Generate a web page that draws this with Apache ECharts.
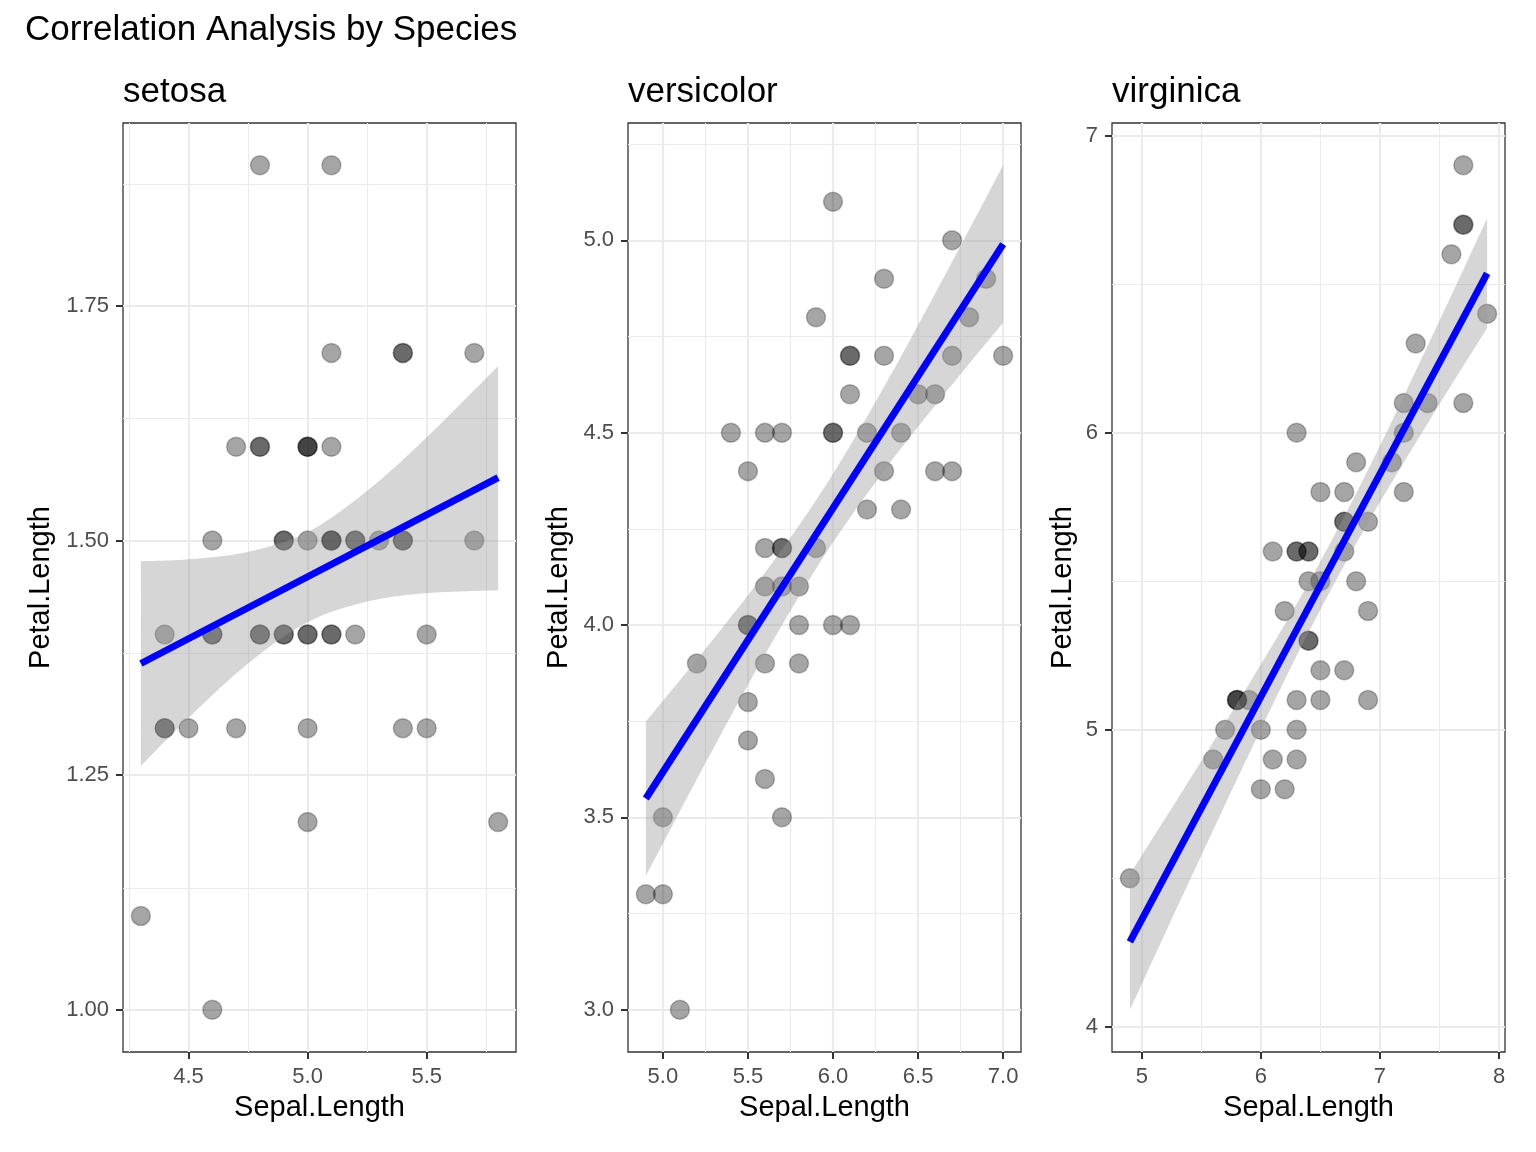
<!DOCTYPE html>
<html>
<head>
<meta charset="utf-8">
<title>Correlation Analysis by Species</title>
<script src="https://cdn.jsdelivr.net/npm/echarts@6.0.0/dist/echarts.min.js"></script>
<style>
html, body { margin: 0; padding: 0; background: #fff; }
#chart { width: 1536px; height: 1152px; }
</style>
</head>
<body>
<div id="chart"></div>
<script>
// Sepal.Length vs Petal.Length, one panel per species, with lm line + 95% band

const species = ['setosa', 'versicolor', 'virginica'];

const setosaSepal = [5.1, 4.9, 4.7, 4.6, 5.0, 5.4, 4.6, 5.0, 4.4, 4.9, 5.4, 4.8, 4.8, 4.3, 5.8, 5.7, 5.4, 5.1, 5.7, 5.1, 5.4, 5.1, 4.6, 5.1, 4.8, 5.0, 5.0, 5.2, 5.2, 4.7, 4.8, 5.4, 5.2, 5.5, 4.9, 5.0, 5.5, 4.9, 4.4, 5.1, 5.0, 4.5, 4.4, 5.0, 5.1, 4.8, 5.1, 4.6, 5.3, 5.0];
const setosaPetal = [1.4, 1.4, 1.3, 1.5, 1.4, 1.7, 1.4, 1.5, 1.4, 1.5, 1.5, 1.6, 1.4, 1.1, 1.2, 1.5, 1.3, 1.4, 1.7, 1.5, 1.7, 1.5, 1.0, 1.7, 1.9, 1.6, 1.6, 1.5, 1.4, 1.6, 1.6, 1.5, 1.5, 1.4, 1.5, 1.2, 1.3, 1.4, 1.3, 1.5, 1.3, 1.3, 1.3, 1.6, 1.9, 1.4, 1.6, 1.4, 1.5, 1.4];

const versicolorSepal = [7.0, 6.4, 6.9, 5.5, 6.5, 5.7, 6.3, 4.9, 6.6, 5.2, 5.0, 5.9, 6.0, 6.1, 5.6, 6.7, 5.6, 5.8, 6.2, 5.6, 5.9, 6.1, 6.3, 6.1, 6.4, 6.6, 6.8, 6.7, 6.0, 5.7, 5.5, 5.5, 5.8, 6.0, 5.4, 6.0, 6.7, 6.3, 5.6, 5.5, 5.5, 6.1, 5.8, 5.0, 5.6, 5.7, 5.7, 6.2, 5.1, 5.7];
const versicolorPetal = [4.7, 4.5, 4.9, 4.0, 4.6, 4.5, 4.7, 3.3, 4.6, 3.9, 3.5, 4.2, 4.0, 4.7, 3.6, 4.4, 4.5, 4.1, 4.5, 3.9, 4.8, 4.0, 4.9, 4.7, 4.3, 4.4, 4.8, 5.0, 4.5, 3.5, 3.8, 3.7, 3.9, 5.1, 4.5, 4.5, 4.7, 4.4, 4.1, 4.0, 4.4, 4.6, 4.0, 3.3, 4.2, 4.2, 4.2, 4.3, 3.0, 4.1];

const virginicaSepal = [6.3, 5.8, 7.1, 6.3, 6.5, 7.6, 4.9, 7.3, 6.7, 7.2, 6.5, 6.4, 6.8, 5.7, 5.8, 6.4, 6.5, 7.7, 7.7, 6.0, 6.9, 5.6, 7.7, 6.3, 6.7, 7.2, 6.2, 6.1, 6.4, 7.2, 7.4, 7.9, 6.4, 6.3, 6.1, 7.7, 6.3, 6.4, 6.0, 6.9, 6.7, 6.9, 5.8, 6.8, 6.7, 6.7, 6.3, 6.5, 6.2, 5.9];
const virginicaPetal = [6.0, 5.1, 5.9, 5.6, 5.8, 6.6, 4.5, 6.3, 5.8, 6.1, 5.1, 5.3, 5.5, 5.0, 5.1, 5.3, 5.5, 6.7, 6.9, 5.0, 5.7, 4.9, 6.7, 4.9, 5.7, 6.0, 4.8, 4.9, 5.6, 5.8, 6.1, 6.4, 5.6, 5.1, 5.6, 6.1, 5.6, 5.5, 4.8, 5.4, 5.6, 5.1, 5.1, 5.9, 5.7, 5.2, 5.0, 5.2, 5.4, 5.1];

// fitted line ends
const setosaFitX = [4.3, 5.8];
const setosaFitY = [1.369, 1.567];
const versicolorFitX = [4.9, 7.0];
const versicolorFitY = [3.549, 4.990];
const virginicaFitX = [4.9, 7.9];
const virginicaFitY = [4.286, 6.536];

// grey confidence band edges
const setosaBandX = [4.3, 4.5, 4.75, 5.0, 5.25, 5.5, 5.8];
const setosaBandLow = [1.260, 1.311, 1.369, 1.413, 1.435, 1.444, 1.447];
const setosaBandHigh = [1.478, 1.480, 1.488, 1.509, 1.553, 1.610, 1.686];
const versicolorBandX = [4.9, 5.25, 5.6, 5.95, 6.3, 6.65, 7.0];
const versicolorBandLow = [3.348, 3.641, 3.923, 4.181, 4.401, 4.598, 4.786];
const versicolorBandHigh = [3.749, 3.938, 4.136, 4.358, 4.619, 4.903, 5.195];
const virginicaBandX = [4.9, 5.4, 5.9, 6.4, 6.9, 7.4, 7.9];
const virginicaBandLow = [4.058, 4.491, 4.918, 5.328, 5.697, 6.031, 6.352];
const virginicaBandHigh = [4.514, 4.831, 5.154, 5.494, 5.875, 6.292, 6.721];

// tick labels and minor grid positions
const setosaXTicks = ['4.5', '5.0', '5.5'];
const setosaYTicks = ['1.00', '1.25', '1.50', '1.75'];
const setosaXMinor = [4.25, 4.75, 5.25, 5.75];
const setosaYMinor = [1.125, 1.375, 1.625, 1.875];
const versicolorXTicks = ['5.0', '5.5', '6.0', '6.5', '7.0'];
const versicolorYTicks = ['3.0', '3.5', '4.0', '4.5', '5.0'];
const versicolorXMinor = [5.25, 5.75, 6.25, 6.75];
const versicolorYMinor = [3.25, 3.75, 4.25, 4.75, 5.25];
const virginicaXTicks = ['5', '6', '7', '8'];
const virginicaYTicks = ['4', '5', '6', '7'];
const virginicaXMinor = [5.5, 6.5, 7.5];
const virginicaYMinor = [4.5, 5.5, 6.5];

const FONT = '"Liberation Sans", Arial, Helvetica, sans-serif';

const panels = [
    { name: 'setosa', sepal: setosaSepal, petal: setosaPetal, fitX: setosaFitX, fitY: setosaFitY,
      bandX: setosaBandX, low: setosaBandLow, high: setosaBandHigh,
      xTicks: setosaXTicks, yTicks: setosaYTicks, xMinor: setosaXMinor, yMinor: setosaYMinor,
      xRange: [4.225, 5.875], yRange: [0.955, 1.945], left: 123, yNameGap: 68 },
    { name: 'versicolor', sepal: versicolorSepal, petal: versicolorPetal, fitX: versicolorFitX, fitY: versicolorFitY,
      bandX: versicolorBandX, low: versicolorBandLow, high: versicolorBandHigh,
      xTicks: versicolorXTicks, yTicks: versicolorYTicks, xMinor: versicolorXMinor, yMinor: versicolorYMinor,
      xRange: [4.795, 7.105], yRange: [2.890, 5.305], left: 628, yNameGap: 55 },
    { name: 'virginica', sepal: virginicaSepal, petal: virginicaPetal, fitX: virginicaFitX, fitY: virginicaFitY,
      bandX: virginicaBandX, low: virginicaBandLow, high: virginicaBandHigh,
      xTicks: virginicaXTicks, yTicks: virginicaYTicks, xMinor: virginicaXMinor, yMinor: virginicaYMinor,
      xRange: [4.75, 8.05], yRange: [3.9156, 7.0421], left: 1112, yNameGap: 35 }
];

const chart = echarts.init(document.getElementById('chart'));

const titles = [{
    text: 'Correlation Analysis by Species',
    left: 25, top: 13, padding: 0,
    textStyle: { fontSize: 35, fontWeight: 'normal', color: '#000', fontFamily: FONT }
}];
const grids = [];
const xAxes = [];
const yAxes = [];
const series = [];

function labelFor(ticks) {
    const vals = ticks.map(Number);
    return function (v) {
        const i = vals.indexOf(v);
        return i >= 0 ? ticks[i] : '';
    };
}

function axisCommon(ticks, name, gap) {
    const vals = ticks.map(Number);
    return {
        type: 'value',
        name: name,
        nameLocation: 'middle',
        nameGap: gap,
        nameTextStyle: { fontSize: 29, color: '#000', fontFamily: FONT },
        splitLine: { show: false },
        axisLine: { show: false },
        axisTick: { show: true, customValues: vals, length: 7, lineStyle: { color: '#333', width: 2 } },
        axisLabel: { customValues: vals, formatter: labelFor(ticks), margin: 14,
                     color: '#4D4D4D', fontSize: 22, fontFamily: FONT }
    };
}

// Catmull-Rom through the band edge points (pixel space) so the edge draws as a curve
function curveThrough(pts, steps) {
    const out = [];
    const n = pts.length;
    for (let k = 0; k < n - 1; k++) {
        const p0 = pts[Math.max(k - 1, 0)], p1 = pts[k], p2 = pts[k + 1], p3 = pts[Math.min(k + 2, n - 1)];
        for (let s = 0; s < steps; s++) {
            const t = s / steps, t2 = t * t, t3 = t2 * t;
            const pt = [0, 1].map(d => 0.5 * (2 * p1[d] + (-p0[d] + p2[d]) * t +
                (2 * p0[d] - 5 * p1[d] + 4 * p2[d] - p3[d]) * t2 +
                (-p0[d] + 3 * p1[d] - 3 * p2[d] + p3[d]) * t3));
            out.push(pt);
        }
    }
    out.push(pts[n - 1]);
    return out;
}

panels.forEach(function (p, i) {
    titles.push({
        text: p.name, left: p.left, top: 75, padding: 0,
        textStyle: { fontSize: 35, fontWeight: 'normal', color: '#000', fontFamily: FONT }
    });
    grids.push({ left: p.left, top: 123, width: 393, height: 929, show: true,
                 borderColor: '#333', borderWidth: 1.3, backgroundColor: '#fff' });

    xAxes.push(Object.assign(axisCommon(p.xTicks, 'Sepal.Length', 41),
        { gridIndex: i, min: p.xRange[0], max: p.xRange[1] }));
    yAxes.push(Object.assign(axisCommon(p.yTicks, 'Petal.Length', p.yNameGap),
        { gridIndex: i, min: p.yRange[0], max: p.yRange[1] }));

    const gridLines = [];
    p.xMinor.forEach(v => gridLines.push({ xAxis: v, lineStyle: { width: 1.1 } }));
    p.yMinor.forEach(v => gridLines.push({ yAxis: v, lineStyle: { width: 1.1 } }));
    p.xTicks.forEach(v => gridLines.push({ xAxis: Number(v), lineStyle: { width: 2.2 } }));
    p.yTicks.forEach(v => gridLines.push({ yAxis: Number(v), lineStyle: { width: 2.2 } }));

    series.push({
        type: 'line', xAxisIndex: i, yAxisIndex: i, data: [], silent: true, z: 1,
        markLine: {
            silent: true, z: 1, animation: false,
            symbol: ['none', 'none'],
            label: { show: false },
            lineStyle: { color: '#EBEBEB', type: 'solid' },
            emphasis: { disabled: true },
            data: gridLines
        }
    });

    series.push({
        name: p.name, type: 'scatter', xAxisIndex: i, yAxisIndex: i, z: 3,
        symbolSize: 19,
        itemStyle: { color: 'rgba(0,0,0,0.44)', borderColor: 'rgba(0,0,0,0.3)', borderWidth: 1.5 },
        data: p.sepal.map((x, k) => [x, p.petal[k]])
    });

    series.push({
        type: 'custom', xAxisIndex: i, yAxisIndex: i, z: 4, silent: true,
        data: p.bandX.map((x, k) => [x, p.low[k], p.high[k]]),
        encode: { x: 0, y: [1, 2] },
        renderItem: function (params, api) {
            if (params.dataIndex !== 0) return;
            const upper = p.bandX.map((x, k) => api.coord([x, p.high[k]]));
            const lower = p.bandX.map((x, k) => api.coord([x, p.low[k]]));
            const pts = curveThrough(upper, 12).concat(curveThrough(lower, 12).reverse());
            return { type: 'polygon', shape: { points: pts },
                     style: { fill: 'rgba(153,153,153,0.4)', stroke: null } };
        }
    });

    series.push({
        type: 'line', xAxisIndex: i, yAxisIndex: i, z: 5, silent: true,
        symbol: 'none', lineStyle: { color: '#0000FF', width: 7 },
        data: p.fitX.map((x, k) => [x, p.fitY[k]])
    });
});

chart.setOption({
    animation: false,
    backgroundColor: '#fff',
    title: titles,
    grid: grids,
    xAxis: xAxes,
    yAxis: yAxes,
    series: series
});
</script>
</body>
</html>
